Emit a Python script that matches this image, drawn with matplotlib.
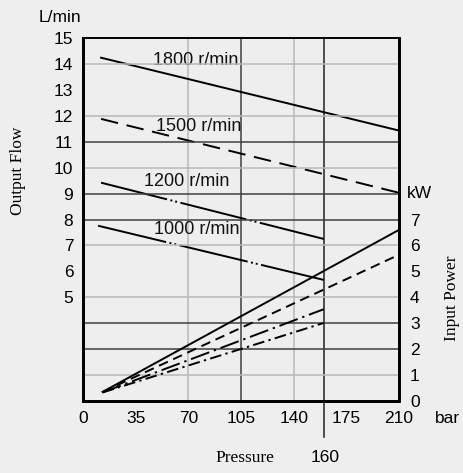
import matplotlib
matplotlib.use('Agg')
import matplotlib.pyplot as plt

# pressure axis (bar)
x_ticks = [0, 35, 70, 105, 140, 175, 210]

# output flow (L/min) per speed: start/end points
flow_speeds = ['1800 r/min', '1500 r/min', '1200 r/min', '1000 r/min']
flow_x = [[12, 210], [12, 210], [12, 160], [10, 160]]
flow_y = [[14.24, 11.43], [11.88, 9.03], [9.42, 7.25], [7.76, 5.67]]
label_x = [46.5, 48.5, 40.5, 47]
label_y = [14.15, 11.6, 9.48, 7.6]

# input power (kW) per speed, same order
power_x = [[13, 210], [13, 210], [13, 160], [13, 160]]
power_y = [[0.35, 6.6], [0.35, 5.64], [0.33, 3.54], [0.33, 3.01]]

styles = ['-', (0, (9, 4.5)), (0, (35, 1.8, 1, 1.5, 1, 1.8)), (0, (36, 1.8, 1, 1.5, 1, 1.8))]
power_styles = ['-', (0, (5, 3)), (0, (10, 2.5, 1.2, 2.5)), (0, (6, 2.2, 1.2, 2.2))]

bg = '#eeeeee'
sans = 'Liberation Sans'
serif = 'Liberation Serif'

fig = plt.figure(figsize=(4.64, 4.73), dpi=100, facecolor=bg)
ax = fig.add_axes([83 / 464, 1 - 401 / 473, 316 / 464, 363 / 473])
ax.set_facecolor(bg)
ax.set_xlim(0, 210)
ax.set_ylim(1, 15)
ax2 = ax.twinx()
ax2.set_ylim(0, 14)

# grid lines (in kW units)
gray_h = [1, 4, 6, 9, 11, 13]
dark_h = [2, 3, 7, 8, 10]
for h in gray_h:
    ax2.axhline(h, color='#b8b8b8', lw=1.1, zorder=1)
for h in dark_h:
    ax2.axhline(h, color='#404040', lw=1.1, zorder=1)
for v in [70, 140]:
    ax.axvline(v, color='#b8b8b8', lw=1.1, zorder=1)
ax.axvline(105, color='#404040', lw=1.1, zorder=1)
ax.plot([160, 160], [1, 15], color='#202020', lw=1.1, zorder=1)
ax.plot([160, 160], [-0.4, 1], color='#202020', lw=1.1, clip_on=False)

for i in range(4):
    ax.plot(flow_x[i], flow_y[i], color='black', lw=1.4, linestyle=styles[i], zorder=3)
    ax.text(label_x[i], label_y[i], flow_speeds[i], fontsize=13, family=sans,
            ha='left', va='center', color='#111111', zorder=4)
    ax2.plot(power_x[i], power_y[i], color='black', lw=1.4, linestyle=power_styles[i], zorder=3)

for a in (ax, ax2):
    for s in a.spines.values():
        s.set_linewidth(2)
        s.set_color('black')
    a.spines['top'].set_linewidth(1.2)

ax.set_xticks(x_ticks)
ax.set_xticklabels([str(t) for t in x_ticks], fontsize=12.5, family=sans)
ax.set_yticks(range(5, 16))
ax.set_yticklabels([str(t) for t in range(5, 16)], fontsize=12.5, family=sans)
ax2.set_yticks(range(0, 8))
ax2.set_yticklabels([str(t) for t in range(0, 8)], fontsize=12.5, family=sans)
ax.tick_params(axis='both', length=0, pad=7)
ax.tick_params(axis='x', pad=7)
ax2.tick_params(axis='y', length=0, pad=8)

fig.text(60 / 464, 1 - 17 / 473, 'L/min', fontsize=12.5, family=sans, ha='center', va='center')
fig.text(407 / 464, 1 - 193 / 473, 'kW', fontsize=12.5, family=sans, ha='left', va='center')
fig.text(447 / 464, 1 - 418 / 473, 'bar', fontsize=12.5, family=sans, ha='center', va='center')
fig.text(245 / 464, 1 - 458 / 473, 'Pressure', fontsize=12.5, family=serif, ha='center', va='center')
fig.text(325 / 464, 1 - 457 / 473, '160', fontsize=12.5, family=sans, ha='center', va='center')
fig.text(18 / 464, 1 - 171 / 473, 'Output Flow', fontsize=12.5, family=serif, rotation=90,
         ha='center', va='center')
fig.text(452 / 464, 1 - 298 / 473, 'Input Power', fontsize=12.5, family=serif, rotation=90,
         ha='center', va='center')

fig.savefig('out.png', dpi=100, facecolor=bg)
